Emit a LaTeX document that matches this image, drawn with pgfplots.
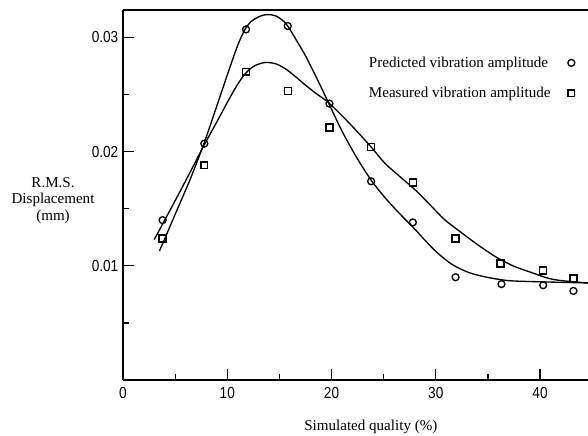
\documentclass[border=0pt]{standalone}
\usepackage{fontspec}
\setmainfont{Liberation Serif}
\newfontfamily\tickfont[FakeStretch=0.85]{Liberation Sans}
\usepackage{pgfplots}
\pgfplotsset{compat=1.18}

\pgfplotstableread{
x y
3.5 0.0113
5.0 0.0145
6.5 0.0177
7.8 0.0208
9.0 0.0240
10.0 0.0267
11.0 0.0293
11.7 0.0307
12.3 0.0314
13.0 0.0318
13.8 0.0320
14.6 0.0319
15.3 0.0315
15.8 0.0310
16.6 0.0298
17.5 0.0284
18.6 0.0264
19.7 0.0243
21.0 0.0218
22.4 0.0195
23.8 0.0175
25.1 0.0160
26.5 0.0146
27.9 0.0133
29.0 0.0122
30.2 0.0111
31.6 0.0101
33.2 0.0094
34.9 0.0090
37.0 0.0087
40.0 0.0086
44.6 0.0085
}\predcurve

\pgfplotstableread{
x y
3.0 0.0123
5.0 0.0157
6.5 0.0183
7.8 0.0206
9.0 0.0226
10.0 0.0243
11.0 0.0259
11.8 0.0269
12.6 0.0275
13.6 0.0278
14.6 0.0277
15.5 0.0273
16.5 0.0266
17.4 0.0259
18.5 0.0251
19.7 0.0243
21.8 0.0224
23.8 0.0204
25.1 0.0190
26.7 0.0177
28.2 0.0165
29.6 0.0152
30.9 0.0140
32.9 0.0126
34.4 0.0116
35.9 0.0107
37.4 0.0100
38.9 0.0095
41.3 0.0088
44.6 0.0085
}\meascurve

\pgfplotstableread{
x y
3.8 0.0140
7.8 0.0207
11.8 0.0307
15.8 0.0310
19.8 0.0242
23.8 0.0174
27.8 0.0138
31.9 0.0090
36.3 0.0084
40.3 0.0083
43.2 0.0078
}\predpts

\pgfplotstableread{
x y
3.8 0.0124
7.8 0.0188
11.8 0.0270
15.8 0.0253
19.8 0.0221
23.8 0.0204
27.8 0.0173
31.9 0.0124
36.2 0.0102
40.3 0.0096
43.2 0.0089
}\measpts

\begin{document}
\begin{tikzpicture}
\begin{axis}[
  at={(0,0)}, anchor=south west,
  scale only axis,
  width=348.75pt, height=277.5pt,
  xmin=0, xmax=44.6, ymin=0, ymax=0.0324,
  axis x line=box, axis y line=left,
  axis line style={-, line width=0.9pt},
  xtick pos=bottom, ytick pos=left,
  tick align=inside,
  xtick={0,10,20,30,40}, xticklabels={0,10,20,30,40},
  minor xtick={5,15,25,35},
  ytick={0.01,0.02,0.03}, yticklabels={0.01,0.02,0.03},
  minor ytick={0.005,0.015,0.025},
  major tick length=8pt, minor tick length=4.5pt,
  every tick/.style={line width=0.9pt, black},
  ticklabel style={font=\tickfont\fontsize{12}{14}\selectfont},
  xticklabel style={yshift=-2pt},
  /pgf/number format/assume math mode=true,
  scaled y ticks=false,
  xlabel={Simulated quality (\%)},
  ylabel={R.M.S.\\Displacement\\(mm)},
  every axis x label/.style={at={(axis description cs:0.533,0)}, anchor=center, yshift=-35.25pt, font=\fontsize{11.3}{12.4}\selectfont},
  every axis y label/.style={at={(axis description cs:-0.1505,0.486)}, anchor=center, align=center, font=\fontsize{11.3}{12.4}\selectfont},
  legend style={draw=none, fill=none, at={(axis description cs:0.514,0.889)}, anchor=north west, font=\fontsize{11.3}{13}\selectfont, row sep=9.5pt, column sep=11pt},
  legend plot pos=right,
  legend cell align=left,
]
\addplot[black, line width=1pt, smooth, tension=0.5, forget plot] table[x=x,y=y] {\predcurve};
\addplot[black, line width=1pt, smooth, tension=0.5, forget plot] table[x=x,y=y] {\meascurve};
\addplot[only marks, mark=o, mark size=2.6pt, mark options={line width=1pt, black}] table[x=x,y=y] {\predpts};
\addlegendentry{Predicted vibration amplitude}
\addplot[only marks, mark=square, mark size=2.6pt, mark options={line width=1pt, black}] table[x=x,y=y] {\measpts};
\addlegendentry{Measured vibration amplitude}
\end{axis}
\pgfresetboundingbox
\path[use as bounding box] (-92.25pt,-41.25pt) rectangle (348.75pt,285pt);
\end{tikzpicture}
\end{document}
